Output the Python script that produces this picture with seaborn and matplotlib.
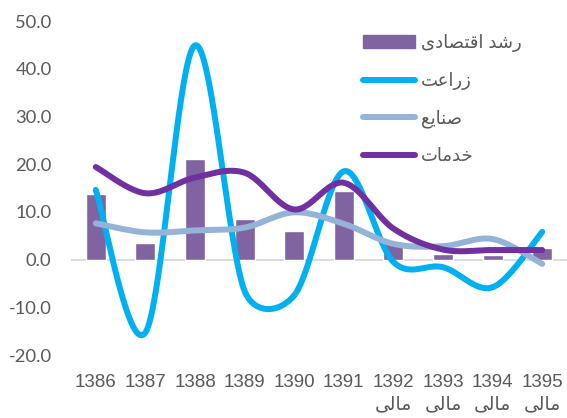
import numpy as np
import pandas as pd
import matplotlib
matplotlib.use('Agg')
import matplotlib.pyplot as plt
from matplotlib.patches import Patch
from matplotlib.lines import Line2D
import seaborn as sns

# data
years = ['1386', '1387', '1388', '1389', '1390', '1391', '1392', '1393', '1394', '1395']
year_note = ['', '', '', '', '', '', 'مالی', 'مالی', 'مالی', 'مالی']
growth = [13.7, 3.5, 21.0, 8.4, 5.9, 14.3, 3.4, 1.2, 1.0, 2.5]
agri = [14.6, -15.3, 44.9, -6.6, -7.5, 18.5, -0.5, -1.6, -5.8, 5.8]
industry = [7.6, 5.7, 6.1, 6.7, 9.9, 7.5, 3.3, 2.8, 4.3, -0.9]
services = [19.4, 13.9, 17.2, 18.2, 10.5, 16.1, 6.5, 2.1, 2.0, 2.0]
names = ['رشد اقتصادی', 'زراعت', 'صنایع', 'خدمات']

# arabic presentation forms: isolated, final, initial, medial
FORMS = {
    'ا': ('\uFE8D', '\uFE8E', None, None),
    'د': ('\uFEA9', '\uFEAA', None, None),
    'ر': ('\uFEAD', '\uFEAE', None, None),
    'ز': ('\uFEAF', '\uFEB0', None, None),
    'ش': ('\uFEB5', '\uFEB6', '\uFEB7', '\uFEB8'),
    'ص': ('\uFEB9', '\uFEBA', '\uFEBB', '\uFEBC'),
    'ق': ('\uFED5', '\uFED6', '\uFED7', '\uFED8'),
    'ت': ('\uFE95', '\uFE96', '\uFE97', '\uFE98'),
    'ع': ('\uFEC9', '\uFECA', '\uFECB', '\uFECC'),
    'ن': ('\uFEE5', '\uFEE6', '\uFEE7', '\uFEE8'),
    'ی': ('\uFEEF', '\uFEF0', '\uFEF3', '\uFEF4'),
    'خ': ('\uFEA5', '\uFEA6', '\uFEA7', '\uFEA8'),
    'م': ('\uFEE1', '\uFEE2', '\uFEE3', '\uFEE4'),
    'ل': ('\uFEDD', '\uFEDE', '\uFEDF', '\uFEE0'),
}


def shape(s):
    out = []
    for i, ch in enumerate(s):
        if ch not in FORMS:
            out.append(ch)
            continue
        prev = s[i - 1] if i > 0 else ''
        nxt = s[i + 1] if i + 1 < len(s) else ''
        jp = prev in FORMS and FORMS[prev][2] is not None
        jn = nxt in FORMS and FORMS[ch][2] is not None
        f = FORMS[ch]
        out.append(f[3] if jp and jn else f[1] if jp else f[2] if jn else f[0])
    return ''.join(out)[::-1]


SX, SY = 49.6, 4.78  # px per category / per unit, for excel-like smoothing


def smooth(y, n=40):
    P = np.column_stack([np.arange(len(y)) * SX, np.asarray(y, float) * SY])
    pts = [P[0]]
    for i in range(len(P) - 1):
        p0 = P[i - 1] if i > 0 else P[i]
        p1, p2 = P[i], P[i + 1]
        p3 = P[i + 2] if i + 2 < len(P) else P[i + 1]
        d12 = np.linalg.norm(p2 - p1)
        a, b = (p2 - p0) / 6, (p3 - p1) / 6
        la, lb = np.linalg.norm(a), np.linalg.norm(b)
        if la > d12 / 2:
            a = a * d12 / 2 / la
        if lb > d12 / 2:
            b = b * d12 / 2 / lb
        c1, c2 = p1 + a, p2 - b
        t = np.linspace(0, 1, n)[1:, None]
        seg = (1 - t) ** 3 * p1 + 3 * (1 - t) ** 2 * t * c1 + 3 * (1 - t) * t ** 2 * c2 + t ** 3 * p2
        pts.extend(seg)
    pts = np.array(pts)
    return pts[:, 0] / SX, pts[:, 1] / SY


sns.set_style('white')
plt.rcParams['font.family'] = ['Liberation Sans', 'DejaVu Sans']

fig = plt.figure(figsize=(5.67, 4.18), dpi=100)
ax = fig.add_axes([71 / 567, 1 - 355 / 418, 496 / 567, 334 / 418])

df = pd.DataFrame({'year': years, 'growth': growth})
ax.axhline(0, color='#D9D9D9', lw=1.3, zorder=0.5)
sns.barplot(data=df, x='year', y='growth', color='#8064A2', width=0.4,
            saturation=1, ax=ax, zorder=2)

colors = ['#00B0F0', '#95B3D7', '#7030A0']
for vals, c in zip([agri, industry, services], colors):
    xs, ys = smooth(vals)
    sns.lineplot(x=xs, y=ys, sort=False, estimator=None, color=c, lw=4.3,
                 solid_capstyle='round', ax=ax, zorder=3)

ax.set_xlim(-0.5, 9.5)
ax.set_ylim(-20, 50)
ax.set_yticks(np.arange(-20, 51, 10))
ax.set_yticklabels([f'{v:.1f}' for v in np.arange(-20, 51, 10)],
                   family=['Lato', 'DejaVu Sans'], fontsize=13.2, color='#595959')
ax.set_xticks(range(len(years)))
ax.set_xticklabels([y + ('\n' + shape(n) if n else '') for y, n in zip(years, year_note)],
                   fontsize=13.5, color='#595959', linespacing=1.4)
ax.tick_params(axis='y', length=0, pad=14)
ax.tick_params(axis='x', length=0, pad=14)
ax.set_xlabel('')
ax.set_ylabel('')
for s in ax.spines.values():
    s.set_visible(False)

handles = [Patch(color='#8064A2')] + [Line2D([], [], color=c, lw=4.3, solid_capstyle='round') for c in colors]
fig.legend(handles, [shape(n) for n in names], loc='upper left',
           bbox_to_anchor=(354 / 567, 1 - 25 / 418), frameon=False,
           fontsize=13, handlelength=2.9, handletextpad=0.3, labelspacing=1.1,
           borderpad=0, labelcolor='#595959')

fig.savefig('out.png', dpi=100)
